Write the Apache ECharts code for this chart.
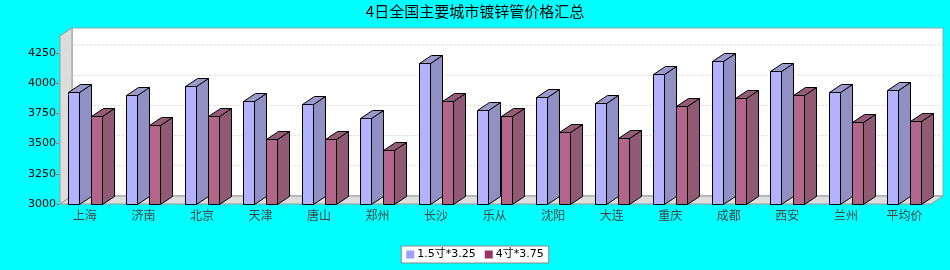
<!DOCTYPE html>
<html>
<head>
<meta charset="utf-8">
<script src="https://cdn.jsdelivr.net/npm/echarts@6/dist/echarts.min.js"></script>
<style>
html,body{margin:0;padding:0;background:#00FFFF;}
#chart{width:950px;height:270px;}
</style>
</head>
<body>
<div id="chart"></div>
<script>
// ---- data ----
const titleText = '4日全国主要城市镀锌管价格汇总';
const categories = ['上海','济南','北京','天津','唐山','郑州','长沙','乐从','沈阳','大连','重庆','成都','西安','兰州','平均价'];
const seriesNames = ['1.5寸*3.25', '4寸*3.75'];
const values15 = [3925, 3905, 3975, 3850, 3825, 3710, 4165, 3775, 3890, 3840, 4080, 4180, 4100, 3925, 3940];
const values4 = [3730, 3650, 3730, 3535, 3535, 3445, 3850, 3730, 3600, 3550, 3810, 3880, 3900, 3680, 3685];
const yTicks = [3250, 3500, 3750, 4000, 4250];
const Y_MIN = 3000, Y_MAX = 4391, Y_STEP = 250;

// ---- style / layout ----
const DX = 12, DY = 8;            // 3D depth offset
const PLOT_X0 = 60, PLOT_X1 = 931; // front plane horizontal extent
const BAR_W = 0.193;              // bar width as fraction of category band
const OFFS = [-0.294, 0.1008];    // front-face left offset from category centre
const FRONT = ['#B2B2FF', '#B3668C'];
const SIDE = ['#9090C5', '#905A75'];
const TOP = ['#9A9ACC', '#955C78'];
const LEGEND_COLORS = ['#A0A0FF', '#993366'];
const FONT = '"DejaVu Sans","Noto Sans CJK SC",sans-serif';

const chart = echarts.init(document.getElementById('chart'), null, {renderer: 'canvas'});

function wallsRender(params, api) {
  const yb = api.coord([0, Y_MIN])[1];
  const yt = api.coord([0, Y_MAX])[1];
  const x0 = PLOT_X0, x1 = PLOT_X1;
  return {
    type: 'group',
    children: [
      {type: 'rect', shape: {x: x0 + DX, y: yt - DY, width: x1 - x0, height: yb - yt},
       style: {fill: '#FFFFFF', stroke: '#8aa', lineWidth: 1}},
      {type: 'polygon', shape: {points: [[x0, yt], [x0 + DX, yt - DY], [x0 + DX, yb - DY], [x0, yb]]},
       style: {fill: '#DDDDDD', stroke: '#999', lineWidth: 1}},
      {type: 'polygon', shape: {points: [[x0, yb], [x0 + DX, yb - DY], [x1 + DX, yb - DY], [x1, yb]]},
       style: {fill: '#DDDDDD', stroke: '#999', lineWidth: 1}}
    ]
  };
}

function gridRender(params, api) {
  const y = api.coord([0, api.value(1)])[1];
  return {
    type: 'polyline',
    shape: {points: [[PLOT_X0, y], [PLOT_X0 + DX, y - DY], [PLOT_X1 + DX, y - DY]]},
    style: {fill: null, stroke: '#D4D4D4', lineWidth: 1, lineDash: [2, 2]}
  };
}

function makeBarRender(k) {
  return function (params, api) {
    const i = api.value(0), v = api.value(1);
    const c = api.coord([i, v]);
    const yb = api.coord([i, Y_MIN])[1];
    const band = api.size([1, 0])[0];
    const x0 = Math.round(c[0] + band * OFFS[k]) + 0.5;
    const x1 = x0 + Math.round(band * BAR_W);
    const yt = Math.round(c[1]) + 0.5;
    const ybb = Math.round(yb) + 0.5;
    const st = {stroke: '#000', lineWidth: 1, lineJoin: 'miter'};
    return {
      type: 'group',
      children: [
        {type: 'polygon', shape: {points: [[x1, yt], [x1 + DX, yt - DY], [x1 + DX, ybb - DY], [x1, ybb]]},
         style: Object.assign({fill: SIDE[k]}, st)},
        {type: 'polygon', shape: {points: [[x0, yt], [x0 + DX, yt - DY], [x1 + DX, yt - DY], [x1, yt]]},
         style: Object.assign({fill: TOP[k]}, st)},
        {type: 'rect', shape: {x: x0, y: yt, width: x1 - x0, height: ybb - yt},
         style: Object.assign({fill: FRONT[k]}, st)}
      ]
    };
  };
}

const option = {
  backgroundColor: '#00FFFF',
  animation: false,
  title: {
    text: titleText, left: 'center', top: 4, padding: 0,
    textStyle: {fontSize: 15, fontWeight: 'normal', color: '#000', fontFamily: '"Noto Sans CJK SC",sans-serif'}
  },
  legend: {
    data: seriesNames.map((n, k) => ({name: n, itemStyle: {color: LEGEND_COLORS[k]}})),
    left: 'center', top: 246,
    icon: 'rect', itemWidth: 8, itemHeight: 8, itemGap: 9,
    padding: [3, 5], backgroundColor: '#FFFFFF', borderColor: '#888', borderWidth: 1,
    textStyle: {fontSize: 11, color: '#000', fontFamily: FONT, padding: [0, 0, 0, -2]}
  },
  grid: {left: 55.6, right: 16.3, top: 36, bottom: 66},
  xAxis: {
    type: 'category', data: categories,
    axisLine: {show: false}, axisTick: {show: false},
    axisLabel: {fontSize: 12, color: '#444', margin: 5, interval: 0, fontFamily: '"Noto Sans CJK SC",sans-serif'},
    splitLine: {show: false}
  },
  yAxis: {
    type: 'value', min: Y_MIN, max: Y_MAX, interval: Y_STEP, offset: -4.4,
    axisLine: {show: false},
    axisTick: {show: true, length: 4, lineStyle: {color: '#888'}},
    axisLabel: {fontSize: 11, color: '#000', margin: 4, showMaxLabel: false, fontFamily: FONT,
                formatter: v => String(v)},
    splitLine: {show: false}
  },
  series: [
    {type: 'custom', name: 'walls', renderItem: wallsRender, data: [[0, Y_MIN]], z: 1, silent: true},
    {type: 'custom', name: 'grid', renderItem: gridRender, data: yTicks.map(v => [0, v]), z: 2, silent: true},
    {type: 'custom', name: seriesNames[0], renderItem: makeBarRender(0), itemStyle: {color: LEGEND_COLORS[0]},
     data: values15.map((v, i) => [i, v]), z: 3},
    {type: 'custom', name: seriesNames[1], renderItem: makeBarRender(1), itemStyle: {color: LEGEND_COLORS[1]},
     data: values4.map((v, i) => [i, v]), z: 3}
  ]
};
chart.setOption(option);
</script>
</body>
</html>
